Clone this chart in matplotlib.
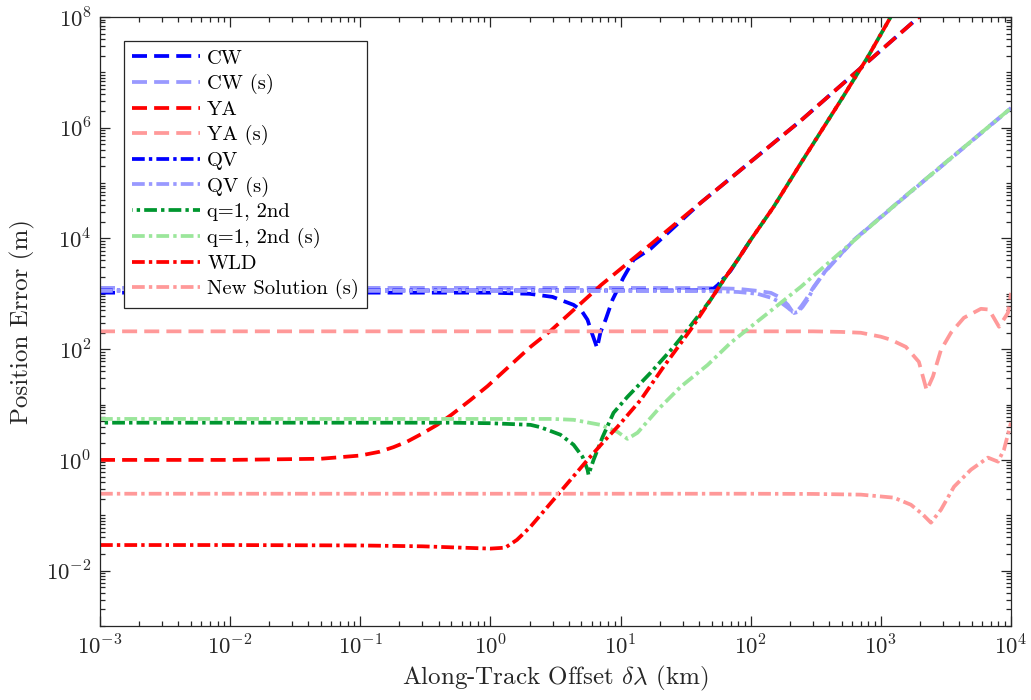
import numpy as np
import matplotlib
matplotlib.use("Agg")
import matplotlib.pyplot as plt
from matplotlib.ticker import LogLocator, NullFormatter, FixedLocator

plt.rcParams['font.family'] = 'serif'
plt.rcParams['font.serif'] = ['cmr10']
plt.rcParams['mathtext.fontset'] = 'cm'
plt.rcParams['axes.formatter.use_mathtext'] = True

# ---- data (along-track offset in km, position error in m) ----
cw_x = [1e-3, 0.1, 1, 2, 3, 4.35, 5.0, 5.57, 6.0, 6.4, 6.6, 7.0, 7.67, 8.67, 10.5, 12.6, 17, 41.2, 243, 1960, 2300]
cw_y = [1050, 1050, 1050, 1000, 880, 632, 500, 340, 200, 130, 105, 200, 340, 780, 1950, 4110, 6500, 44000, 1.35e6, 1e8, 1.38e8]

cws_x = [1e-3, 1, 10, 50, 80, 113, 143, 170, 193, 210, 225, 245, 265, 305, 365, 412, 620, 1425, 1e4]
cws_y = [1280, 1280, 1280, 1270, 1230, 1130, 1040, 850, 630, 470, 470, 600, 780, 1340, 2390, 3300, 9400, 49800, 2.27e6]

ya_x = [1e-3, 0.01, 0.05, 0.1, 0.14, 0.18, 0.23, 0.3, 0.39, 0.5, 0.7, 0.95, 2.03, 2.9, 4.12, 7.1, 17, 41.2, 243, 1960, 2300]
ya_y = [1.0, 1.0, 1.05, 1.2, 1.4, 1.7, 2.15, 3.0, 4.3, 6.5, 12.0, 21.5, 110, 215, 454, 1450, 7800, 44000, 1.35e6, 1e8, 1.38e8]

yas_x = [1e-3, 1, 10, 100, 300, 500, 702, 1000, 1194, 1557, 1960, 2250, 2512, 2896, 3455, 4345, 5870, 6775, 8090, 9480, 1e4]
yas_y = [210, 210, 210, 210, 210, 205, 198, 168, 148, 110, 59, 18, 32, 97, 198, 369, 536, 520, 254, 454, 1040]

qv_x = [1e-3, 1, 10, 30, 45, 52, 56, 62, 70, 79.4, 100]
qv_y = [1150, 1150, 1150, 1150, 1160, 1250, 1450, 1900, 2600, 4110, 9440]

qvs_x = [1e-3, 1, 10, 50, 80, 113, 143, 170, 193, 215, 230, 250, 275, 305, 365, 412, 620, 1425, 1e4]
qvs_y = [1130, 1130, 1130, 1120, 1080, 1000, 850, 700, 560, 450, 470, 580, 800, 1300, 2350, 3250, 9300, 49000, 2.25e6]

q1_x = [1e-3, 0.5, 1.0, 2.03, 2.42, 3.45, 4.35, 5.1, 5.57, 5.67, 6.2, 7.28, 8.83, 11.3, 17, 25.6, 32.7, 49.2, 62, 79.4, 100, 150, 243, 519, 794, 1190, 1400]
q1_y = [4.7, 4.7, 4.6, 4.3, 3.9, 2.85, 1.88, 1.14, 0.67, 0.54, 1.0, 2.6, 7.1, 13.8, 37.5, 110, 224, 780, 1790, 4110, 9440, 37200, 2.3e5, 3.8e6, 1.9e7, 1e8, 1.85e8]

q1s_x = [1e-3, 1, 3, 4.35, 7.0, 9.48, 11.3, 13.5, 19.3, 29, 46.7, 70, 243, 1425, 1e4]
q1s_y = [5.5, 5.5, 5.5, 5.3, 4.3, 3.2, 2.4, 3.1, 8.05, 21, 52, 130, 1340, 49800, 2.27e6]

wld_x = [1e-3, 0.01, 0.1, 0.3, 0.6, 1.0, 1.3, 1.6, 2.03, 2.5, 3.05, 4.2, 5.57, 7.5, 9.48, 14.3, 21.4, 34.5, 49.2, 62, 79.4, 100, 150, 243, 519, 794, 1190, 1400]
wld_y = [0.029, 0.029, 0.0285, 0.0275, 0.026, 0.025, 0.026, 0.036, 0.062, 0.11, 0.19, 0.46, 1.0, 2.2, 3.97, 12.2, 48, 224, 780, 1790, 4110, 9440, 37200, 2.3e5, 3.8e6, 1.9e7, 1e8, 1.85e8]

ns_x = [1e-3, 1, 10, 100, 300, 702, 1259, 1702, 2104, 2425, 2896, 3648, 4920, 6650, 7943, 8830, 1e4]
ns_y = [0.245, 0.245, 0.245, 0.245, 0.243, 0.236, 0.208, 0.155, 0.103, 0.0735, 0.126, 0.328, 0.665, 1.1, 0.93, 1.53, 4.7]

labels = ['CW', 'CW (s)', 'YA', 'YA (s)', 'QV', 'QV (s)', 'q=1, 2nd', 'q=1, 2nd (s)', 'WLD', 'New Solution (s)']

# ---- styles ----
BLUE, LBLUE = '#0000FF', '#9999FF'
RED, LRED = '#FF0000', '#FF9999'
GREEN, LGREEN = '#00962F', '#9BE69B'
DASH = (0, (4.0, 1.9))
DASHDOT = (0, (3.4, 1.1, 0.9, 1.1))
DASHDOT_SHIFT = (3.25, (3.4, 1.1, 0.9, 1.1))
LW = 2.7

series = [
    (cw_x, cw_y, BLUE, DASH),
    (cws_x, cws_y, LBLUE, DASH),
    (ya_x, ya_y, RED, DASH),
    (yas_x, yas_y, LRED, DASH),
    (qv_x, qv_y, BLUE, DASHDOT),
    (qvs_x, qvs_y, LBLUE, DASHDOT),
    (q1_x, q1_y, GREEN, DASHDOT_SHIFT),
    (q1s_x, q1s_y, LGREEN, DASHDOT),
    (wld_x, wld_y, RED, DASHDOT),
    (ns_x, ns_y, LRED, DASHDOT),
]

fig = plt.figure(figsize=(10.31, 7.0), dpi=100)
ax = fig.add_axes([100/1031, 1 - 626/700, 911/1031, 609/700])

for (x, y, c, ls), lab in zip(series, labels):
    ax.plot(x, y, color=c, linestyle=ls, linewidth=LW, label=lab)

ax.set_xscale('log')
ax.set_yscale('log')
ax.set_xlim(1e-3, 1e4)
ax.set_ylim(1e-3, 1e8)

ax.xaxis.set_major_locator(FixedLocator([10.0**k for k in range(-3, 5)]))
ax.xaxis.set_minor_locator(LogLocator(base=10, subs=np.arange(2, 10), numticks=100))
ax.yaxis.set_major_locator(FixedLocator([10.0**k for k in range(-2, 9, 2)]))
ax.yaxis.set_minor_locator(LogLocator(base=10, subs=np.arange(1, 10), numticks=100))
ax.xaxis.set_minor_formatter(NullFormatter())
ax.yaxis.set_minor_formatter(NullFormatter())

axcol = '#262626'
for s in ax.spines.values():
    s.set_color(axcol)
    s.set_linewidth(0.9)
ax.tick_params(which='both', direction='in', top=True, right=True, colors=axcol, width=0.9)
ax.tick_params(which='major', length=7, labelsize=16.4, pad=6)
ax.tick_params(which='minor', length=3.8)

ax.set_xlabel(r'Along-Track Offset $\delta\lambda$ (km)', fontsize=18, color=axcol, labelpad=4)
ax.set_ylabel('Position Error (m)', fontsize=18, color=axcol, labelpad=8)

leg = ax.legend(loc='upper left', bbox_to_anchor=(0.0263, 0.9606), borderaxespad=0,
                fontsize=14.8, handlelength=3.3, handletextpad=0.35, labelspacing=0.31,
                borderpad=0.4, frameon=True, fancybox=False, framealpha=1)
leg.get_frame().set_edgecolor(axcol)
leg.get_frame().set_linewidth(0.9)

fig.savefig('out.png', dpi=100)
